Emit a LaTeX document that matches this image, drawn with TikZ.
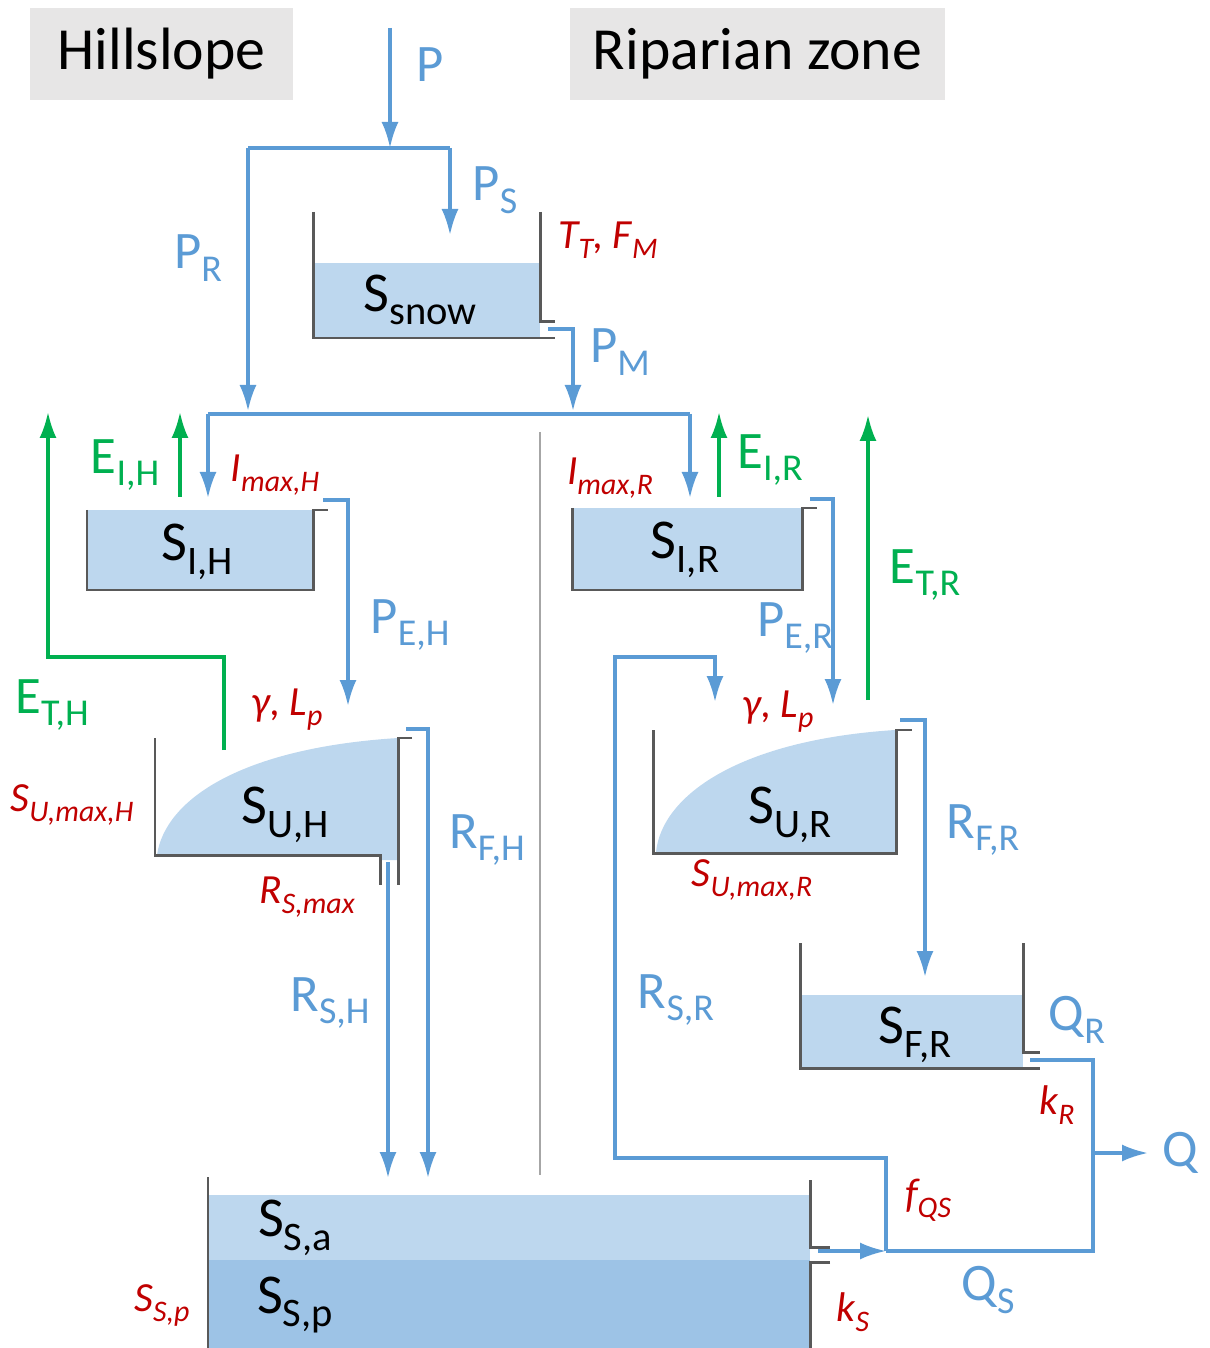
\documentclass[tikz,border=0pt]{standalone}
\usepackage{fontspec}
\setmainfont{Carlito}
\usetikzlibrary{arrows.meta, positioning, calc}
\definecolor{hbvblue}{HTML}{5B9BD5}
\definecolor{hbvwater}{HTML}{BDD7EE}
\definecolor{hbvdeep}{HTML}{9DC3E6}
\definecolor{hbvgreen}{HTML}{00B050}
\definecolor{hbvred}{HTML}{C00000}
\definecolor{hbvwall}{HTML}{595959}
\definecolor{hbvhead}{HTML}{E7E6E6}
\definecolor{hbvdiv}{HTML}{A6A6A6}
\newcommand{\lo}[1]{\raisebox{-0.24em}{\scalebox{0.72}{#1}}}
\tikzset{
  zone/.style={fill=hbvhead, minimum height=9.2mm, inner sep=0pt,
               font=\fontsize{17}{20}\selectfont},
  flow/.style={draw=hbvblue, line width=0.9pt, -{Latex[length=2.6mm,width=1.7mm]}},
  flowline/.style={draw=hbvblue, line width=0.9pt},
  evap/.style={draw=hbvgreen, line width=0.9pt, -{Latex[length=2.6mm,width=1.7mm]}},
  wall/.style={draw=hbvwall, line width=0.85pt},
  store/.style={inner sep=0pt, font=\fontsize{16}{19}\selectfont},
  fluxlab/.style={inner sep=0pt, text=hbvblue, font=\fontsize{15}{18}\selectfont},
  evaplab/.style={inner sep=0pt, text=hbvgreen, font=\fontsize{15}{18}\selectfont},
  parlab/.style={inner sep=0pt, text=hbvred, font=\fontsize{11.8}{14}\selectfont\itshape}
}

\begin{document}
\begin{tikzpicture}[x=0.1mm, y=-0.1mm]
  \useasboundingbox (0,0) rectangle (1209,1348);

  % zone headers
  \node[zone, minimum width=26.3mm] (hill) at (161.5,54) {Hillslope};
  \node[zone, minimum width=37.5mm] (rip) at (757.5,54) {Riparian zone};

  % water in the stores
  \fill[hbvwater] (313,263) rectangle (540,338);
  \fill[hbvwater] (87,510) rectangle (313,590);
  \fill[hbvwater] (572,508) rectangle (802,590);
  \fill[hbvwater] (157,855) .. controls (165,800) and (240,748) .. (398,738)
    -- (398,860) -- (380,860) -- (380,855) -- cycle;
  \fill[hbvwater] (656,852) .. controls (662,795) and (740,740) .. (895,730)
    -- (895,853) -- cycle;
  \fill[hbvwater] (800,995) rectangle (1023,1068);
  \fill[hbvwater] (208,1195) rectangle (810,1260);
  \fill[hbvdeep] (208,1260) rectangle (810,1348);

  % store walls
  \draw[wall] (313,212) -- (313,338) -- (555,338);
  \draw[wall] (540,212) -- (540,322) -- (555,322);
  \draw[wall] (87,510) -- (87,590) -- (313,590) -- (313,510) -- (328,510);
  \draw[wall] (572,508) -- (572,590) -- (802,590) -- (802,508) -- (817,508);
  \draw[wall] (155,738) -- (155,855) -- (380,855) -- (380,885);
  \draw[wall] (412,738) -- (398,738) -- (398,885);
  \draw[wall] (653,730) -- (653,853) -- (896,853) -- (896,730) -- (912,730);
  \draw[wall] (800,943) -- (800,1068) -- (1040,1068);
  \draw[wall] (1023,943) -- (1023,1052) -- (1040,1052);
  \draw[wall] (208,1177) -- (208,1348);
  \draw[wall] (810,1180) -- (810,1247) -- (830,1247);
  \draw[wall] (830,1262) -- (810,1262) -- (810,1348);

  % divider between hillslope and riparian zone
  \coordinate (divt) at (540,432);
  \coordinate (divb) at (540,1175);
  \draw[hbvdiv, line width=0.5pt] (divt) -- (divb);

  % flux points
  \coordinate (pin) at (390,28);
  \coordinate (psplit) at (390,148);
  \coordinate (prc) at (248,148);
  \coordinate (psc) at (450,148);
  \coordinate (prend) at (248,411);
  \coordinate (psend) at (450,235);
  \coordinate (pmout) at (548,329);
  \coordinate (pmend) at (573,411);
  \coordinate (distl) at (208,414);
  \coordinate (distr) at (690,414);
  \coordinate (sihin) at (208,498);
  \coordinate (sirin) at (690,498);
  \coordinate (eihs) at (180,497);
  \coordinate (eihe) at (180,412);
  \coordinate (eths) at (224,750);
  \coordinate (ethc) at (48,657);
  \coordinate (ethe) at (48,412);
  \coordinate (pehs) at (323,500);
  \coordinate (pehe) at (348,706);
  \coordinate (rfhs) at (406,729);
  \coordinate (rfhe) at (428,1178);
  \coordinate (rshs) at (388,862);
  \coordinate (rshe) at (388,1178);
  \coordinate (eirs) at (719,497);
  \coordinate (eire) at (719,412);
  \coordinate (pers) at (810,499);
  \coordinate (pere) at (833,705);
  \coordinate (etrs) at (868,700);
  \coordinate (etre) at (868,415);
  \coordinate (rfrs) at (900,720);
  \coordinate (rfre) at (925,977);
  \coordinate (qrs) at (1030,1060);
  \coordinate (qjoin) at (1093,1251);
  \coordinate (qsout) at (818,1251);
  \coordinate (qsjoin) at (886,1251);
  \coordinate (rsrc) at (615,1158);
  \coordinate (rsrt) at (615,657);
  \coordinate (rsre) at (715,702);
  \coordinate (qo) at (1093,1153);
  \coordinate (qe) at (1148,1153);

  % precipitation and snow
  \draw[flow] (pin) -- (psplit);
  \draw[flowline] (prc) -- (psc);
  \draw[flow] (prc) -- (prend);
  \draw[flow] (psc) -- (psend);
  \draw[flow] (pmout) -| (pmend);
  \draw[flowline] (distl) -- (distr);
  \draw[flow] (distl) -- (sihin);
  \draw[flow] (distr) -- (sirin);

  % hillslope
  \draw[evap] (eihs) -- (eihe);
  \draw[evap] (eths) |- (ethc) -- (ethe);
  \draw[flow] (pehs) -| (pehe);
  \draw[flow] (rfhs) -| (rfhe);
  \draw[flow] (rshs) -- (rshe);

  % riparian zone
  \draw[evap] (eirs) -- (eire);
  \draw[flow] (pers) -| (pere);
  \draw[evap] (etrs) -- (etre);
  \draw[flow] (rfrs) -| (rfre);
  \draw[flowline] (qrs) -| (qjoin) -- (qsjoin);
  \draw[flow] (qsout) -- (qsjoin);
  \draw[flow] (qsjoin) |- (rsrc) -- (rsrt) -| (rsre);
  \draw[flow] (qo) -- (qe);

  % store labels
  \node[store] (ssnow) at (420,300) {S\lo{snow}};
  \node[store] (sih) at (197,552) {S\lo{I,H}};
  \node[store] (sir) at (685,550) {S\lo{I,R}};
  \node[store] (suh) at (285,815) {S\lo{U,H}};
  \node[store] (sur) at (790,815) {S\lo{U,R}};
  \node[store] (sfr) at (915,1035) {S\lo{F,R}};
  \node[store] (ssa) at (295,1228) {S\lo{S,a}};
  \node[store] (ssp) at (295,1305) {S\lo{S,p}};

  % flux labels
  \node[fluxlab] (lp) at (430,65) {P};
  \node[fluxlab] (lps) at (495,190) {P\lo{S}};
  \node[fluxlab] (lpr) at (198,258) {P\lo{R}};
  \node[fluxlab] (lpm) at (620,352) {P\lo{M}};
  \node[fluxlab] (lpeh) at (410,625) {P\lo{E,H}};
  \node[fluxlab] (lper) at (795,628) {P\lo{E,R}};
  \node[fluxlab] (lrfh) at (487,840) {R\lo{F,H}};
  \node[fluxlab] (lrsh) at (330,1003) {R\lo{S,H}};
  \node[fluxlab] (lrfr) at (983,830) {R\lo{F,R}};
  \node[fluxlab] (lrsr) at (676,1000) {R\lo{S,R}};
  \node[fluxlab] (lqr) at (1077,1020) {Q\lo{R}};
  \node[fluxlab] (lqs) at (988,1290) {Q\lo{S}};
  \node[fluxlab] (lq) at (1180,1153) {Q};

  % evaporation labels
  \node[evaplab] (leih) at (125,465) {E\lo{I,H}};
  \node[evaplab] (leth) at (52,705) {E\lo{T,H}};
  \node[evaplab] (leir) at (770,460) {E\lo{I,R}};
  \node[evaplab] (letr) at (925,575) {E\lo{T,R}};

  % parameters
  \node[parlab] (ptt) at (608,240) {T\lo{T}, F\lo{M}};
  \node[parlab] (pimh) at (275,475) {I\lo{max,H}};
  \node[parlab] (pimr) at (610,478) {I\lo{max,R}};
  \node[parlab] (pgh) at (287,710) {γ, L\lo{p}};
  \node[parlab] (pgr) at (778,712) {γ, L\lo{p}};
  \node[parlab] (psuh) at (72,805) {S\lo{U,max,H}};
  \node[parlab] (psur) at (752,880) {S\lo{U,max,R}};
  \node[parlab] (prs) at (307,897) {R\lo{S,max}};
  \node[parlab] (pkr) at (1057,1105) {k\lo{R}};
  \node[parlab] (pfqs) at (928,1200) {f\lo{QS}};
  \node[parlab] (pssp) at (162,1305) {S\lo{S,p}};
  \node[parlab] (pks) at (853,1312) {k\lo{S}};
\end{tikzpicture}
\end{document}
